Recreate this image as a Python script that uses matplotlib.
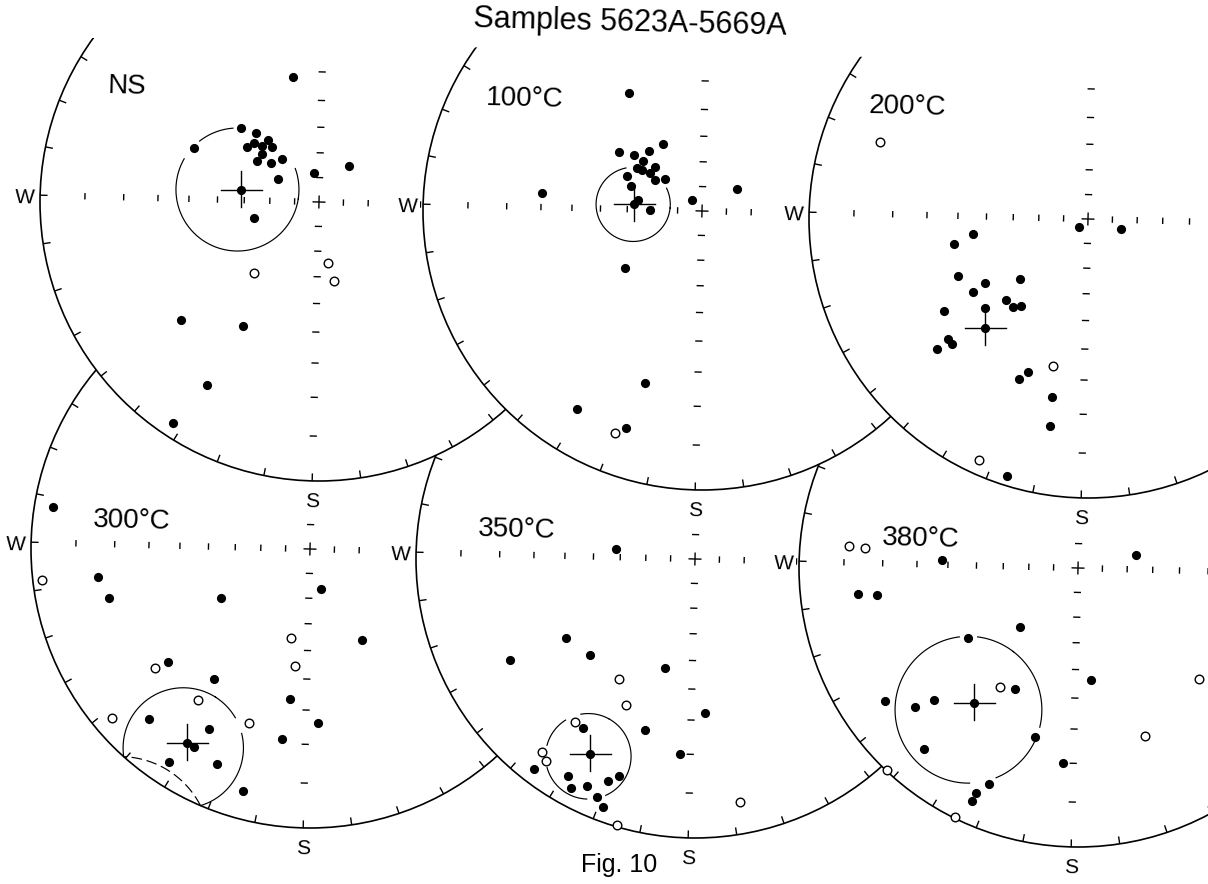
import numpy as np
import matplotlib
matplotlib.use("Agg")
import matplotlib.pyplot as plt
from matplotlib.patches import Circle, Rectangle, Polygon
from matplotlib.collections import LineCollection

# Directions after each demagnetisation step (declination, inclination, degrees).
# A negative inclination is an upward direction and is plotted as an open circle.
ns_dec = [347, 312, 316, 311, 319, 306, 313, 318, 309, 302, 308, 318,
          298, 292, 255, 348, 38, 221, 170, 168, 228, 210, 210, 212]
ns_inc = [41, 48, 53, 55, 58, 54, 58, 61, 60, 60, 65, 67,
          71, 38, 63, 78, 71, -52, -65, -58, 24, 35, 15, 3]

t100_dec = [327, 304, 308, 317, 328, 309, 302, 303, 305, 312, 302, 309,
            294, 288, 278, 270, 318, 56, 275, 232, 197, 211, 198, 200]
t100_inc = [37, 50, 55, 58, 59, 59, 59, 61, 64, 64, 67, 70,
            57, 60, 64, 69, 84, 73, 30, 52, 24, 10, 11, -9]

t200_dec = [289, 227, 106, 261, 258, 245, 237, 236, 227, 224, 219, 216,
            228, 236, 228, 226, 228, 192, 200, 202, 190, 189, 203, 196]
t200_inc = [-13, 85, 76, 45, 38, 36, 43, 38, 54, 45, 45, 47,
            38, 27, 23, 23, 19, -33, 29, 26, 24, 16, -3, 2]

t300_dec = [278, 262, 261, 255, 240, 164, 191, 149, 186, 231, 230, 215,
            186, 215, 228, 222, 198, 208, 176, 187, 209, 212, 202, 194]
t300_inc = [4, -2, 15, 17, 50, 73, -54, 49, -44, -20, 24, 30,
            33, -22, -4, 10, -23, 17, 26, 21, 11, 5, 10, 6]

t350_dec = [276, 237, 240, 226, 194, 211, 204, 175, 215, 212, 195, 183,
            217, 215, 216, 209, 198, 200, 207, 204, 201, 199, 168, 195]
t350_inc = [58, 33, 16, 36, 46, -36, -30, 32, -18, 18, 25, 20,
            -7, -6, 3, 6, 11, 9, 4, 6, 4.5, 3, -7, -0.3]

t380_dec = [274, 274, 272, 76, 262, 261, 223, 236, 172, 131, 212, 206,
            234, 226, 228, 193, 157, 219, 183, 222, 201, 203, 203, 205]
t380_inc = [-11, -15, 38, 66, 13, 18, 57, 40, 46, -29, -36, 38,
            10, 20, 15, 26, -24, 9, 20, -0.3, 10, 7, 5, -0.3]

# Mean directions: declination, inclination and alpha95 (None: no cone drawn)
mean_dec = [277.3, 274.1, 221.9, 211.1, 207.0, 216.3]
mean_inc = [58.4, 62.6, 33.4, 11.1, 13.2, 27.1]
mean_a95 = [23.0, 14.3, None, 14.5, 10.7, 21.4]

step_labels = ["NS", "100°C", "200°C", "300°C", "350°C", "380°C"]
step_dec = [ns_dec, t100_dec, t200_dec, t300_dec, t350_dec, t380_dec]
step_inc = [ns_inc, t100_inc, t200_inc, t300_inc, t350_inc, t380_inc]

TITLE = "Samples 5623A-5669A"
CAPTION = "Fig. 10"

# ---------------------------------------------------------------- layout
W_PX, H_PX = 1208, 884
R = 279.0          # radius of the primitive circle (px)
TILT = 1.4         # the sheet is turned slightly clockwise
FONT = ["Liberation Sans", "DejaVu Sans"]

centres = [(319, 202), (702, 211), (1088, 219),
           (310, 549), (695, 559), (1078, 568)]
label_pos = [(108, 93), (486, 105), (869, 113),
             (93, 527), (478, 536), (882, 545)]
# breaks left in the confidence circles (screen angle, degrees)
cone_gaps = [[(20, 94), (128, 150)], [(26, 101)], [], [(14, 30)],
             [(100, 122), (165, 195), (268, 294)],
             [(83, 97), (271, 292), (335, 346)]]
draw_order = [3, 4, 5, 0, 1, 2]   # lower row first, each sheet overlapping the previous
TOP_EDGE = (93, 38)                # the upper row of nets is trimmed along this line

plt.rcParams["font.family"] = FONT


def polar_xy(az, r, c):
    a = np.radians(np.asarray(az, float) + TILT)
    return c[0] + r * np.sin(a), c[1] - r * np.cos(a)


def wulff_r(inc):
    return R * np.tan(np.radians(90.0 - np.asarray(inc, float)) / 2.0)


def small_circle(dec, inc, a95, n=1441):
    d, i, a = np.radians([dec, inc, a95])
    m = np.array([np.cos(i) * np.cos(d), np.cos(i) * np.sin(d), np.sin(i)])
    u = np.array([-np.sin(i) * np.cos(d), -np.sin(i) * np.sin(d), np.cos(i)])
    v = np.cross(m, u)
    t = np.linspace(0, 2 * np.pi, n)
    p = np.cos(a) * m[:, None] + np.sin(a) * (np.cos(t) * u[:, None] + np.sin(t) * v[:, None])
    inc_c = np.degrees(np.arcsin(np.clip(p[2], -1, 1)))
    dec_c = np.degrees(np.arctan2(p[1], p[0]))
    return dec_c, inc_c


fig = plt.figure(figsize=(W_PX / 100, H_PX / 100), dpi=100)
ax = fig.add_axes([0, 0, 1, 1])
ax.set_xlim(0, W_PX)
ax.set_ylim(H_PX, 0)
ax.axis("off")


def draw_net(k, z):
    c = centres[k]
    ax.add_patch(Circle(c, R, facecolor="white", edgecolor="black", lw=1.2, zorder=z))

    segs = []
    # 10-degree marks on the primitive
    for az in range(0, 360, 10):
        x0, y0 = polar_xy(az, R, c)
        x1, y1 = polar_xy(az, R - 7.5, c)
        segs.append([(x0, y0), (x1, y1)])
    # graduations along the W-E and N-S diameters (every 10 deg of inclination)
    incs = np.arange(10, 90, 10)
    for az, half in ((270, 3.2), (90, 3.2), (180, 3.6), (0, 3.6)):
        for I in incs:
            x, y = polar_xy(az, wulff_r(I), c)
            ex, ey = polar_xy(az + 90, half, (0, 0))
            segs.append([(x - ex, y - ey), (x + ex, y + ey)])
    ax.add_collection(LineCollection(segs, colors="black", linewidths=1.0,
                                     capstyle="butt", zorder=z + 1))
    # centre cross
    for az in (0, 90):
        x0, y0 = polar_xy(az, 6.5, c)
        x1, y1 = polar_xy(az + 180, 6.5, c)
        ax.plot([x0, x1], [y0, y1], color="black", lw=1.0, zorder=z + 1,
                solid_capstyle="butt")

    # W and S letters
    wx, wy = polar_xy(270, R, c)
    ax.add_patch(Rectangle((wx - 34, wy - 13), 31, 26, facecolor="white",
                           edgecolor="none", zorder=z + 2))
    ax.text(wx - 5, wy + 8, "W", ha="right", va="baseline", fontsize=15,
            rotation=-TILT, rotation_mode="anchor", zorder=z + 5)
    sx, sy = polar_xy(180, R, c)
    ax.text(sx, sy + 26, "S", ha="center", va="baseline", fontsize=15,
            rotation=-TILT, rotation_mode="anchor", zorder=z + 5,
            bbox=dict(facecolor="white", edgecolor="none", pad=1.0))

    # step label
    lx, ly = label_pos[k]
    ax.text(lx, ly, step_labels[k], ha="left", va="baseline", fontsize=20,
            rotation=-TILT, rotation_mode="anchor", zorder=z + 5)

    # confidence cone around the mean
    if mean_a95[k] is not None:
        dc, ic = small_circle(mean_dec[k], mean_inc[k], mean_a95[k])
        xs, ys = polar_xy(dc, wulff_r(ic), c)
        cx0 = 0.5 * (xs.max() + xs.min())
        cy0 = 0.5 * (ys.max() + ys.min())
        ang = np.degrees(np.arctan2(-(ys - cy0), xs - cx0)) % 360
        solid = ic >= 0
        for a0, a1 in cone_gaps[k]:
            inside = ((ang - a0) % 360) <= ((a1 - a0) % 360)
            solid &= ~inside
        ax.plot(np.where(solid, xs, np.nan), np.where(solid, ys, np.nan),
                color="black", lw=0.85, zorder=z + 2)
        up = ic < 0
        if up.any():
            xd, yd = polar_xy(dc, wulff_r(np.abs(ic)), c)
            ax.plot(np.where(up, xd, np.nan), np.where(up, yd, np.nan),
                    color="black", lw=0.85, dashes=(9, 4), zorder=z + 2)

    # individual directions
    dec = np.asarray(step_dec[k], float)
    inc = np.asarray(step_inc[k], float)
    x, y = polar_xy(dec, wulff_r(np.abs(inc)), c)
    down = inc >= 0
    ax.plot(x[down], y[down], "o", ms=6.6, mfc="black", mec="black", mew=0,
            ls="none", zorder=z + 3)
    ax.plot(x[~down], y[~down], "o", ms=6.2, mfc="white", mec="black", mew=1.0,
            ls="none", zorder=z + 3)

    # mean direction
    mx, my = polar_xy(mean_dec[k], wulff_r(mean_inc[k]), c)
    ax.plot([mx - 20, mx + 21], [my, my], color="black", lw=1.0, zorder=z + 4)
    ax.plot([mx, mx], [my - 19, my + 17], color="black", lw=1.0, zorder=z + 4)
    ax.plot([mx], [my], "o", ms=6.6, mfc="black", mec="black", mew=0, zorder=z + 4)


for n, k in enumerate(draw_order):
    draw_net(k, 10 + 10 * n)

# trimmed upper edge of the top row
slope = np.tan(np.radians(TILT))
y_left = TOP_EDGE[1] - TOP_EDGE[0] * slope
y_right = TOP_EDGE[1] + (W_PX - TOP_EDGE[0]) * slope
ax.add_patch(Polygon([(0, -5), (W_PX, -5), (W_PX, y_right), (0, y_left)],
                     closed=True, facecolor="white", edgecolor="none", zorder=150))

ax.text(473, 27, TITLE, ha="left", va="baseline", fontsize=22,
        rotation=-TILT, rotation_mode="anchor", zorder=200)
ax.text(619, 872, CAPTION, ha="center", va="baseline", fontsize=18, zorder=200)

fig.savefig("out.png", dpi=100, facecolor="white")
